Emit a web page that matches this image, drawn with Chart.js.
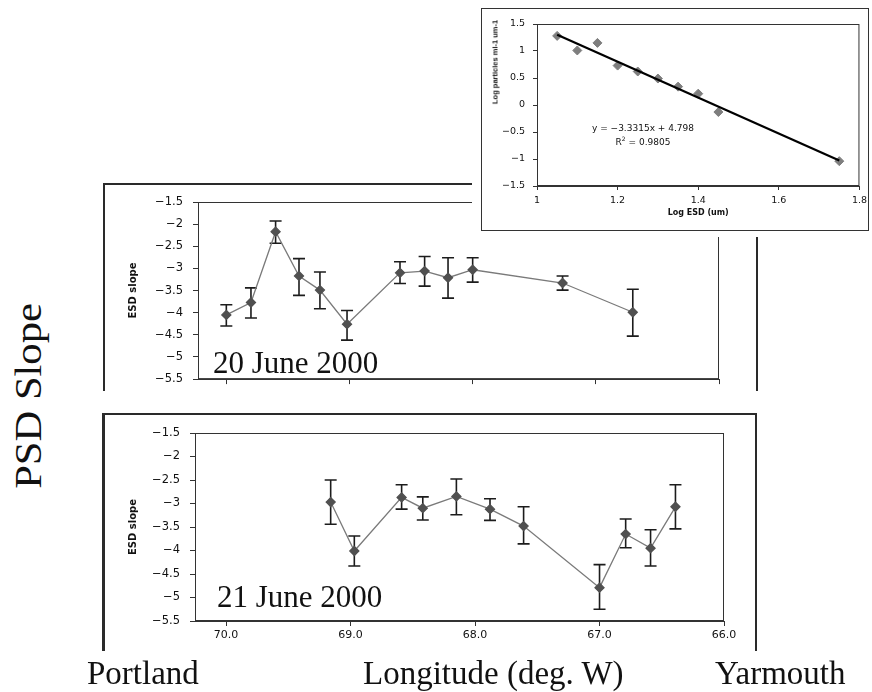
<!DOCTYPE html>
<html>
<head>
<meta charset="utf-8">
<script src="https://cdn.jsdelivr.net/npm/chart.js@4.4.0/dist/chart.umd.min.js"></script>
<style>
  body { margin:0; width:872px; height:692px; position:relative; overflow:hidden; background:#fff; }
  .cv { position:absolute; }
  .ln { position:absolute; background:#2a2a2a; }
  .txt { position:absolute; white-space:nowrap; color:#111; font-family:"Liberation Serif", serif; }
  .small { position:absolute; white-space:nowrap; color:#111; font-family:"DejaVu Sans", sans-serif; }
</style>
</head>
<body>

<!-- 20 June chart -->
<div class="ln" style="left:103px;top:183px;width:654px;height:1.5px"></div>
<div class="ln" style="left:103px;top:183px;width:1.5px;height:208px"></div>
<div class="ln" style="left:756px;top:183px;width:1.5px;height:208px"></div>
<canvas id="top" class="cv" width="654" height="212" style="left:103px;top:184px"></canvas>
<div class="txt" style="left:213px;top:347px;font-size:31px;line-height:31px">20 June 2000</div>

<!-- inset -->
<div style="position:absolute;left:472px;top:0;width:400px;height:237px;background:#fff"></div>
<div style="position:absolute;left:481px;top:8px;width:386px;height:221px;border:1.5px solid #333"></div>
<canvas id="inset" class="cv" width="390" height="221" style="left:482px;top:9px"></canvas>
<div class="small" style="left:495px;top:62px;font-family:'Liberation Sans',sans-serif;font-weight:bold;font-size:7.5px;transform:translate(-50%,-50%) rotate(-90deg)">Log particles ml-1 um-1</div>
<div class="small" style="left:643px;top:128px;font-size:9px;transform:translate(-50%,-50%)">y = −3.3315x + 4.798</div>
<div class="small" style="left:643px;top:141px;font-size:9px;transform:translate(-50%,-50%)">R<sup style="font-size:6px">2</sup> = 0.9805</div>

<!-- 21 June chart -->
<div class="ln" style="left:102px;top:413px;width:654px;height:1.5px"></div>
<div class="ln" style="left:102px;top:413px;width:2.5px;height:238px"></div>
<div class="ln" style="left:755px;top:413px;width:1.5px;height:238px"></div>
<canvas id="bottom" class="cv" width="652" height="244" style="left:103px;top:414px"></canvas>
<div class="txt" style="left:217px;top:581px;font-size:31px;line-height:31px">21 June 2000</div>

<!-- outer labels -->
<div class="txt" style="left:28px;top:396px;font-size:37px;transform:translate(-50%,-50%) rotate(-90deg) scaleX(1.15)">PSD Slope</div>
<div class="txt" style="left:87px;top:657px;font-size:33px;line-height:33px">Portland</div>
<div class="txt" style="left:363px;top:657px;font-size:33px;line-height:33px">Longitude (deg. W)</div>
<div class="txt" style="left:715px;top:657px;font-size:33px;line-height:33px">Yarmouth</div>

<script>
// 20 June 2000 transect
const lon20   = [70.00, 69.80, 69.60, 69.41, 69.24, 69.02, 68.59, 68.39, 68.20, 68.00, 67.27, 66.70];
const slope20 = [-4.05, -3.77, -2.17, -3.17, -3.49, -4.26, -3.10, -3.06, -3.21, -3.03, -3.33, -3.99];
const hi20    = [-3.82, -3.44, -1.93, -2.78, -3.08, -3.95, -2.85, -2.73, -2.76, -2.76, -3.17, -3.47];
const lo20    = [-4.30, -4.12, -2.43, -3.61, -3.91, -4.62, -3.34, -3.40, -3.67, -3.31, -3.49, -4.53];

// 21 June 2000 transect
const lon21   = [69.16, 68.97, 68.59, 68.42, 68.15, 67.88, 67.61, 67.00, 66.79, 66.59, 66.39];
const slope21 = [-2.97, -4.01, -2.87, -3.10, -2.85, -3.12, -3.48, -4.79, -3.65, -3.95, -3.07];
const hi21    = [-2.50, -3.69, -2.60, -2.86, -2.48, -2.90, -3.07, -4.30, -3.33, -3.56, -2.60];
const lo21    = [-3.44, -4.33, -3.12, -3.35, -3.24, -3.36, -3.86, -5.25, -3.94, -4.33, -3.54];

const lonTicks = [70, 69, 68, 67, 66];

// inset: size spectrum
const logEsd  = [1.05, 1.10, 1.15, 1.20, 1.25, 1.30, 1.35, 1.40, 1.45, 1.75];
const logPart = [1.28, 1.01, 1.15, 0.73, 0.62, 0.49, 0.34, 0.21, -0.13, -1.04];
const fitX = [1.05, 1.75];
const fitY = [1.30, -1.03];

const minus = v => String(v).replace('-', '\u2212');

// error bars drawn under the markers
const errorBars = {
  id: 'errorBars',
  beforeDatasetsDraw(chart) {
    const ctx = chart.ctx, xs = chart.scales.x, ys = chart.scales.y;
    chart.data.datasets.forEach(ds => {
      if (!ds.errHi) return;
      ctx.save();
      ctx.strokeStyle = '#1c1c1c';
      ctx.lineWidth = 1.6;
      ds.data.forEach((p, i) => {
        const x = xs.getPixelForValue(p.x);
        const y1 = ys.getPixelForValue(ds.errHi[i]);
        const y2 = ys.getPixelForValue(ds.errLo[i]);
        ctx.beginPath();
        ctx.moveTo(x, y1); ctx.lineTo(x, y2);
        ctx.moveTo(x - 6, y1); ctx.lineTo(x + 6, y1);
        ctx.moveTo(x - 6, y2); ctx.lineTo(x + 6, y2);
        ctx.stroke();
      });
      ctx.restore();
    });
  }
};

const plotFrame = {
  id: 'plotFrame',
  afterDraw(chart) {
    const a = chart.chartArea, ctx = chart.ctx;
    ctx.save();
    ctx.strokeStyle = '#333';
    ctx.lineWidth = 1;
    ctx.strokeRect(a.left + 0.5, a.top + 0.5, a.width - 1, a.height - 1);
    ctx.restore();
  }
};

Chart.defaults.font.family = '"DejaVu Sans", sans-serif';
Chart.defaults.color = '#111';

function transect(id, lon, slope, hi, lo, box) {
  return new Chart(document.getElementById(id), {
    type: 'line',
    data: {
      datasets: [{
        data: lon.map((x, i) => ({ x: x, y: slope[i] })),
        errHi: hi,
        errLo: lo,
        borderColor: '#7a7a7a',
        borderWidth: 1.3,
        pointStyle: 'rectRot',
        pointRadius: 4.5,
        pointBackgroundColor: '#505050',
        pointBorderColor: '#505050',
        tension: 0
      }]
    },
    options: {
      responsive: false,
      animation: false,
      devicePixelRatio: 1,
      layout: { padding: { top: box.padTop, right: box.padRight, left: 0, bottom: 0 } },
      plugins: { legend: { display: false }, tooltip: { enabled: false } },
      scales: {
        x: {
          type: 'linear',
          reverse: true,
          min: 66,
          max: box.xMax,
          afterBuildTicks: s => { s.ticks = lonTicks.map(v => ({ value: v })); },
          afterFit: s => { s.height = box.xHeight; },
          grid: { drawOnChartArea: false, tickLength: 5, color: '#333' },
          border: { color: '#333' },
          ticks: { display: box.xLabels, padding: 3, font: { size: 11 }, callback: v => v.toFixed(1) },
        },
        y: {
          min: -5.5,
          max: -1.5,
          afterFit: s => { s.width = box.yWidth; },
          grid: { drawOnChartArea: false, tickLength: 5, color: '#333' },
          border: { color: '#333' },
          ticks: { stepSize: 0.5, padding: 10, font: { size: 11.5 }, callback: minus },
          title: { display: true, text: 'ESD slope', font: { size: 10, weight: 'bold' }, padding: { top: 24, bottom: 0 } }
        }
      }
    },
    plugins: [errorBars, plotFrame]
  });
}

transect('top', lon20, slope20, hi20, lo20,
  { padTop: 18, padRight: 38, xHeight: 8, yWidth: 95, xMax: 70.23, xLabels: false });
transect('bottom', lon21, slope21, hi21, lo21,
  { padTop: 19, padRight: 31, xHeight: 37, yWidth: 92, xMax: 70.25, xLabels: true });

new Chart(document.getElementById('inset'), {
  type: 'scatter',
  data: {
    datasets: [{
      data: fitX.map((x, i) => ({ x: x, y: fitY[i] })),
      showLine: true,
      borderColor: '#000',
      borderWidth: 2.2,
      pointRadius: 0,
      order: 0
    }, {
      data: logEsd.map((x, i) => ({ x: x, y: logPart[i] })),
      pointStyle: 'rectRot',
      pointRadius: 4.5,
      pointBackgroundColor: '#7e7e7e',
      pointBorderColor: '#7e7e7e',
      order: 1
    }]
  },
  options: {
    responsive: false,
    animation: false,
    devicePixelRatio: 1,
    layout: { padding: { top: 15, right: 10, left: 0, bottom: 0 } },
    plugins: { legend: { display: false }, tooltip: { enabled: false } },
    scales: {
      x: {
        min: 1,
        max: 1.8,
        afterFit: s => { s.height = 44; },
        grid: { drawOnChartArea: false, tickLength: 4, color: '#333' },
        border: { color: '#333' },
        ticks: { stepSize: 0.2, padding: 5, font: { size: 9.5 }, callback: v => String(+v.toFixed(1)) },
        title: { display: true, text: 'Log ESD (um)', font: { size: 8, weight: 'bold' }, padding: { top: 0, bottom: 12 } }
      },
      y: {
        min: -1.5,
        max: 1.5,
        afterFit: s => { s.width = 55; },
        grid: { drawOnChartArea: false, tickLength: 4, color: '#333' },
        border: { color: '#333' },
        ticks: { stepSize: 0.5, padding: 8, font: { size: 9.5 }, callback: minus }
      }
    }
  },
  plugins: [plotFrame]
});
</script>
</body>
</html>
